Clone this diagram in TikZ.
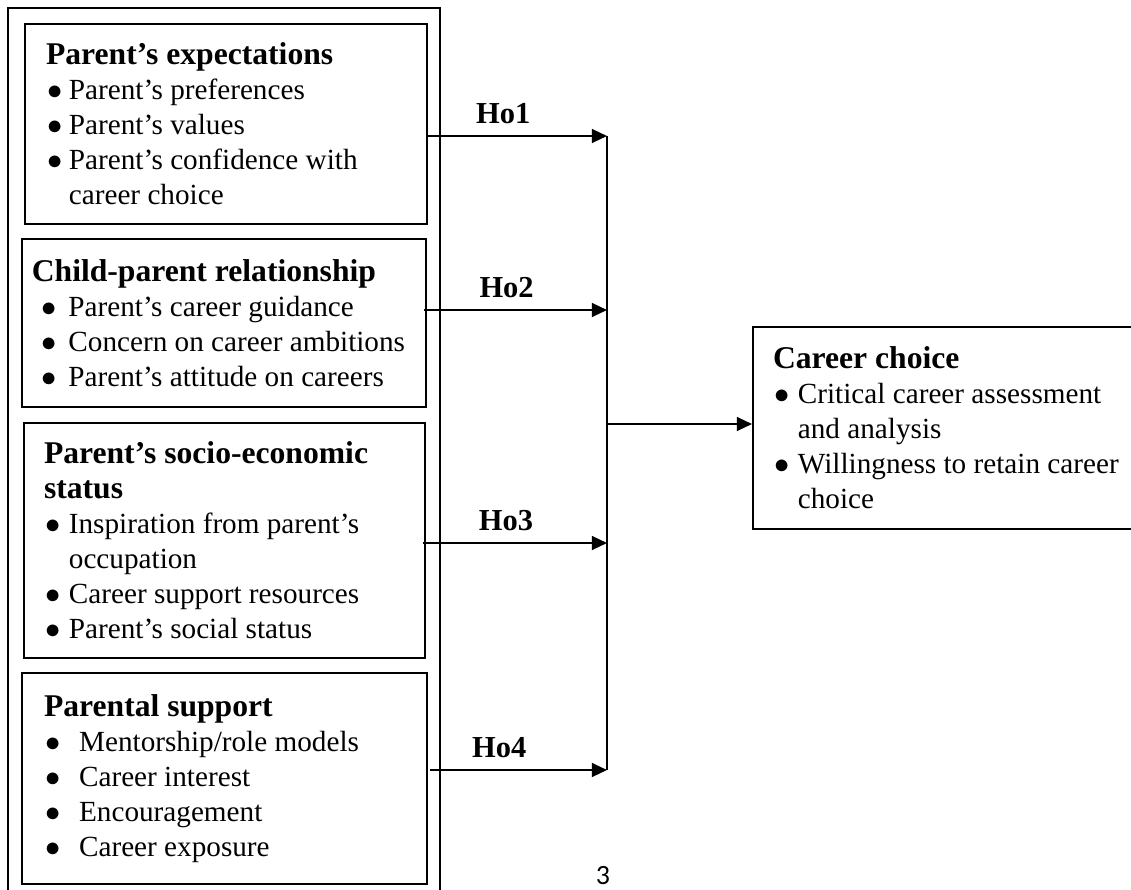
\documentclass[tikz,border=0pt]{standalone}
\usepackage{fontspec}
\setmainfont{Liberation Serif}
\newfontfamily\pagefont{Carlito}
\usepackage{tikz}
\usetikzlibrary{arrows.meta,positioning,calc}

% bullet with room for the item text, and box headings
\newcommand{\bul}[1][9pt]{\makebox[#1][l]{\hspace{0.6pt}$\bullet$}}
\newcommand{\boxtitle}[1]{{\fontsize{12.45}{13.8}\selectfont\bfseries #1}}

\tikzset{
    factor/.style={draw, rectangle, anchor=north west, align=flush left, line width=0.75pt, font=\fontsize{11.5}{13.8}\selectfont},
    link/.style={->, line width=0.75pt},
    hyp/.style={above=1pt, font=\fontsize{12}{13.8}\selectfont\bfseries}
}

\begin{document}
\begin{tikzpicture}[x=0.3937pt, y=-0.3937pt, auto, >={Triangle[length=6pt,width=5.5pt]}]
        \useasboundingbox (0,0) rectangle (1131,890);
        \clip (0,0) rectangle (1131,890);

        % Nodes
        \node (parents) [draw, rectangle, anchor=north west, line width=0.75pt, minimum width=170.1pt, minimum height=360pt, inner sep=0pt] at (7,7) {};

        \node (expect) [factor, minimum width=158.3pt, minimum height=78.7pt, inner xsep=8.3pt, text width=141.7pt] at (24,23)
            {\boxtitle{Parent's expectations}\\
             \bul Parent's preferences\\
             \bul Parent's values\\
             \bul Parent's confidence with\\
             \hspace*{9pt}career choice};

        \node (relation) [factor, minimum width=159.1pt, minimum height=66.1pt, inner xsep=3.9pt, text width=151.3pt] at (21,238)
            {\boxtitle{Child-parent relationship}\\
             \hspace*{3.2pt}\bul[11.2pt]Parent's career guidance\\
             \hspace*{3.2pt}\bul[11.2pt]Concern on career ambitions\\
             \hspace*{3.2pt}\bul[11.2pt]Parent's attitude on careers};

        \node (status) [factor, minimum width=157.9pt, minimum height=92.5pt, inner xsep=7.9pt, text width=142.1pt] at (23,422)
            {\boxtitle{Parent's socio-economic}\\
             \boxtitle{status}\\
             \bul[9.8pt]Inspiration from parent's\\
             \hspace*{9.8pt}occupation\\
             \bul[9.8pt]Career support resources\\
             \bul[9.8pt]Parent's social status};

        \node (support) [factor, minimum width=159.4pt, minimum height=83.1pt, inner xsep=8.7pt, text width=142pt] at (21,672)
            {\boxtitle{Parental support}\\
             \bul[13.8pt]Mentorship/role models\\
             \bul[13.8pt]Career interest\\
             \bul[13.8pt]Encouragement\\
             \bul[13.8pt]Career exposure};

        \node (choice) [factor, minimum width=160.6pt, minimum height=79.5pt, inner xsep=7.9pt, text width=144.8pt] at (752,326)
            {\boxtitle{Career choice}\\
             \bul[9.8pt]Critical career assessment\\
             \hspace*{9.8pt}and analysis\\
             \bul[9.8pt]Willingness to retain career\\
             \hspace*{9.8pt}choice};

        \coordinate (join1) at (607,136);
        \coordinate (join2) at (607,310);
        \coordinate (join3) at (607,543);
        \coordinate (join4) at (607,770);
        \coordinate (hub) at (607,424);

        % Arrows and text
        \draw[link] (expect.east |- join1) -- node[hyp, pos=0.42] {Ho1} (join1);
        \draw[link] ([xshift=-1pt]relation.east |- join2) -- node[hyp, pos=0.45] {Ho2} (join2);
        \draw[link] ([xshift=-1pt]status.east |- join3) -- node[hyp, pos=0.45] {Ho3} (join3);
        \draw[link] ([xshift=1pt]support.east |- join4) -- node[hyp, pos=0.39] {Ho4} (join4);

        \draw[line width=0.75pt] (join1) -- (join4);
        \draw[link] (hub) -- (choice.west |- hub);

        % Page number
        \node (pagenum) [inner sep=1pt] at (603,876) {\pagefont\fontsize{11}{13}\selectfont 3};
\end{tikzpicture}
\end{document}
